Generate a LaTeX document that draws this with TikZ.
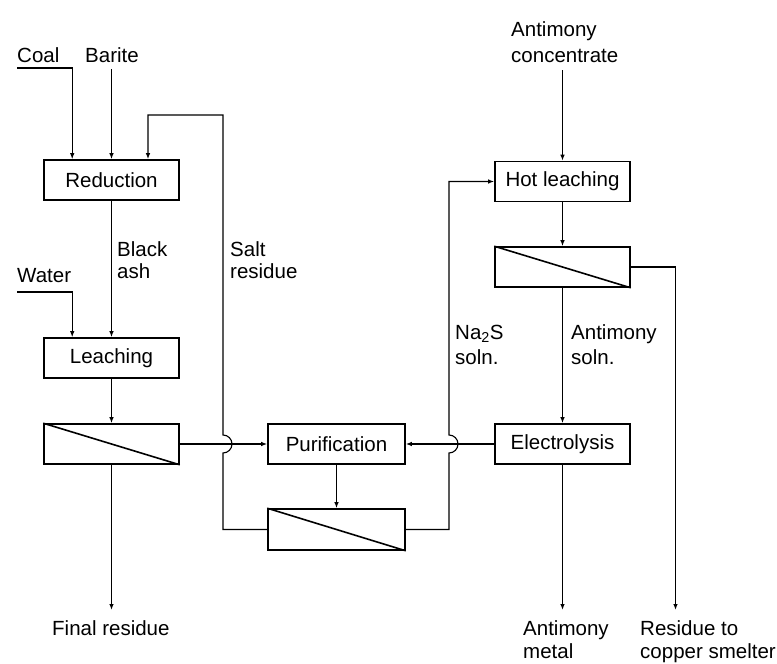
\documentclass[tikz,border=0pt]{standalone}
\usepackage{fontspec}
\setmainfont{Liberation Sans}
\usetikzlibrary{arrows.meta,calc}
\begin{document}
\begin{tikzpicture}[x=1pt,y=-1pt,
  box/.style={draw,line width=1.6pt,minimum width=135pt,minimum height=40pt,inner sep=0pt,font=\fontsize{20.5}{24}\selectfont},
  diag/.style={line width=1.6pt},
  lbl/.style={anchor=base west,inner sep=0pt,font=\fontsize{20.5}{24}\selectfont},
  flow/.style={line width=1.1pt,-{Latex[length=6pt,width=4.5pt]}}]
\useasboundingbox (0,0) rectangle (777,664);

% process boxes
\node[box] (red) at (111.5,180) {Reduction};
\node[box] (leach) at (111.5,358) {Leaching};
\node[box] (f1) at (111.5,444) {};
\node[box,minimum width=137pt] (pur) at (336.5,444) {Purification};
\node[box,minimum width=137pt,minimum height=41pt] (f2) at (336.5,529.5) {};
\node[box] (hot) at (562.5,181.5) {Hot leaching};
\node[box] (f3) at (562.5,267) {};
\node[box] (ele) at (562.5,444) {Electrolysis};
\draw[diag] (f1.north west) -- (f1.south east);
\draw[diag] (f2.north west) -- (f2.south east);
\draw[diag] (f3.north west) -- (f3.south east);

% labels
\node[lbl] (tcoal) at (17,62) {Coal};
\node[lbl] (tbar) at (85,62) {Barite};
\node[lbl] (twat) at (17,282) {Water};
\node[lbl] (tba1) at (117,256) {Black};
\node[lbl] (tba2) at (117,278) {ash};
\node[lbl] (tsr1) at (230,256) {Salt};
\node[lbl] (tsr2) at (230,278) {residue};
\node[lbl] (tna1) at (455,339) {Na\textsubscript{2}S};
\node[lbl] (tna2) at (455,364) {soln.};
\node[lbl] (tas1) at (571,339) {Antimony};
\node[lbl] (tas2) at (571,364) {soln.};
\node[lbl] (tac1) at (511,36) {Antimony};
\node[lbl] (tac2) at (511,62) {concentrate};
\node[lbl] (tfr) at (52,635) {Final residue};
\node[lbl] (tam1) at (523,635) {Antimony};
\node[lbl] (tam2) at (523,658) {metal};
\node[lbl] (tcu1) at (640,635) {Residue to};
\node[lbl] (tcu2) at (640,658) {copper smelter};

% free ends and bends
\coordinate (coal0) at (17,68);
\coordinate (bar0) at (111.5,69);
\coordinate (wat0) at (17,292);
\coordinate (conc0) at (562.5,70);
\coordinate (sr1) at (223,529.5);
\coordinate (sr2) at (223,115);
\coordinate (sr3) at (148,115);
\coordinate (na1) at (449,529.5);
\coordinate (res1) at (111.5,610);
\coordinate (sb1) at (562.5,610);
\coordinate (cu1) at (675.5,610);

% connectors
\draw[flow] (coal0) -| ($(red.north west)+(29,0)$);
\draw[flow] (bar0) -- (bar0 |- red.north);
\draw[flow] (f2.west) -- (sr1) -- (223,453) arc[start angle=-90,end angle=90,radius=9pt] -- (sr2) -- (sr3) -- (sr3 |- red.north);
\draw[flow] (red.south) -- (leach.north);
\draw[flow] (wat0) -| ($(leach.north west)+(29,0)$);
\draw[flow] (leach.south) -- (f1.north);
\draw[flow] (f1.east) -- (pur.west);
\draw[flow] (f1.south) -- (res1);
\draw[flow] (pur.south) -- (f2.north);
\draw[flow] (f2.east) -- (na1) -- (449,453) arc[start angle=-90,end angle=90,radius=9pt] -- (na1 |- hot.west) -- (hot.west);
\draw[flow] (ele.west) -- (pur.east);
\draw[flow] (conc0) -- (hot.north);
\draw[flow] (hot.south) -- (f3.north);
\draw[flow] (f3.south) -- (ele.north);
\draw[flow] (f3.east) -| (cu1);
\draw[flow] (ele.south) -- (sb1);
\end{tikzpicture}
\end{document}
